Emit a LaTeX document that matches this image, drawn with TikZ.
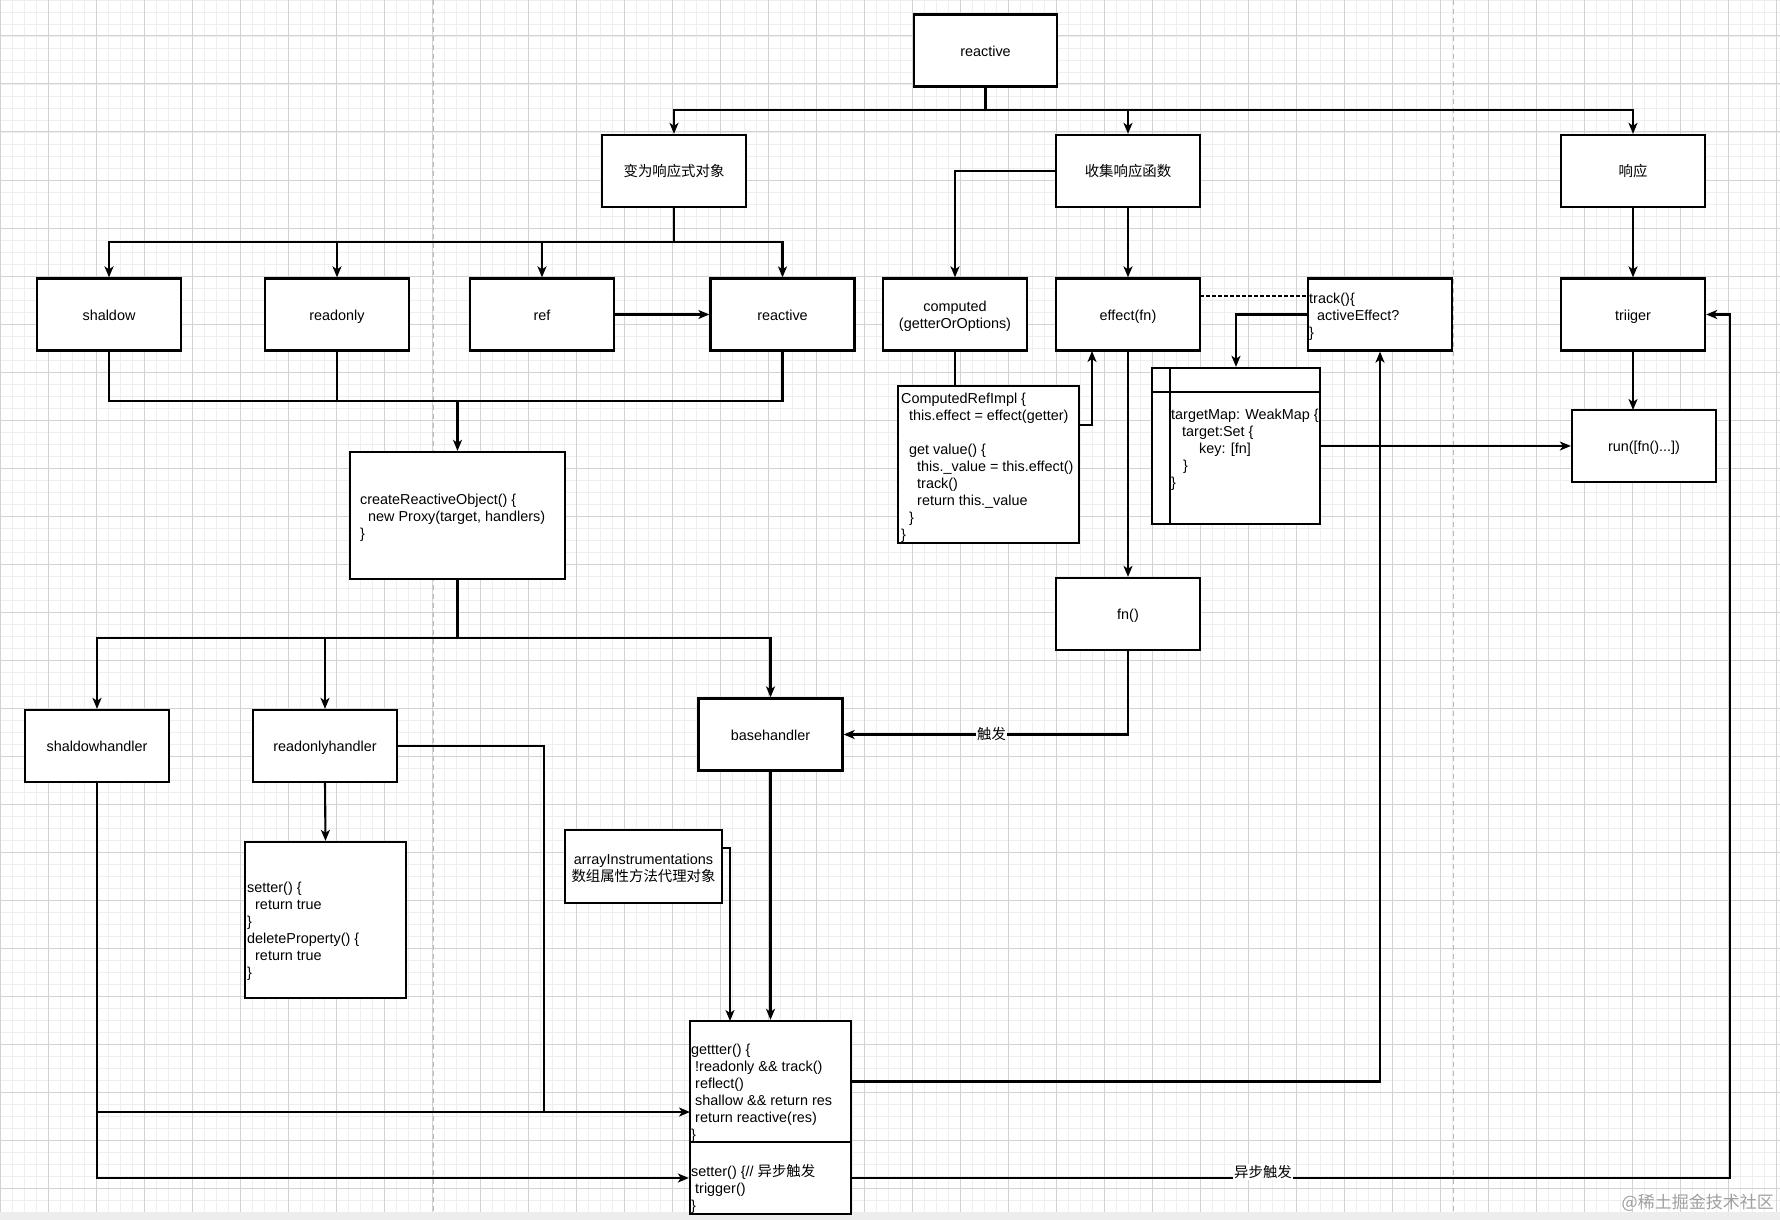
\documentclass[tikz,border=0pt]{standalone}
\usepackage{fontspec}
\setmainfont{Liberation Sans}
\newfontfamily\cjk{Noto Sans CJK SC}
\usetikzlibrary{arrows.meta}
\definecolor{gmaj}{HTML}{D2D2D2}
\definecolor{gmin}{HTML}{EEEEEE}
\definecolor{sep}{HTML}{B8B8B8}
\newcommand\dfont{\fontsize{14.4}{17}\selectfont}
\newcommand\tallfirst{\rule{0pt}{14.5pt}}
\begin{document}
\begin{tikzpicture}[x=1pt,y=-1pt,
  box/.style={draw=black, line width=2.3pt, fill=white, minimum width=144pt, minimum height=72pt, inner sep=0pt, align=center, font=\dfont},
  one/.style={text height=14pt, text depth=2.7pt},
  conn/.style={line width=2.1pt, -{Stealth[length=11pt,width=9pt,inset=3pt]}},
  thinconn/.style={line width=1.6pt, -{Stealth[length=11pt,width=9pt,inset=3pt]}},
  lineseg/.style={line width=2.1pt},
  thinseg/.style={line width=1.6pt},
  code/.style={align=left, inner sep=0pt, anchor=west, font=\dfont},
  lbl/.style={fill=white, inner sep=1pt, font=\dfont}]
\useasboundingbox (0,0) rectangle (1780,1220);
% background grid
\fill[white] (0,0) rectangle (1780,1220);
\foreach \x in {0,12,...,1776} \draw[gmin, line width=0.7pt] (\x,0) -- (\x,1212);
\foreach \y in {0,12,...,1211} \draw[gmin, line width=0.7pt] (0,\y) -- (1780,\y);
\foreach \x in {0,48,...,1776} \draw[gmaj, line width=1pt] (\x,0) -- (\x,1212);
\foreach \y in {36,84,...,1211} \draw[gmaj, line width=1pt] (0,\y) -- (1780,\y);
\draw[sep, line width=1pt, dash pattern=on 5pt off 4pt] (433,0) -- (433,1212);
\draw[sep, line width=1pt, dash pattern=on 5pt off 4pt] (1453,0) -- (1453,1212);
\fill[gray!14] (0,1212) rectangle (1780,1220);
\node[text=gray!75, font=\cjk\fontsize{17}{20}\selectfont, anchor=east, inner sep=0pt] (wm) at (1774,1203) {@稀土掘金技术社区};

% nodes
\node[box, one, minimum width=143pt] (reactive) at (985.5,50.5) {reactive};
\node[box, one] (bianwei) at (674,171) {{\cjk 变为响应式对象}};
\node[box, one] (shouji) at (1128,171) {{\cjk 收集响应函数}};
\node[box, one] (xiangying) at (1633,171) {{\cjk 响应}};

\node[box, one] (shaldow) at (109,314.5) {shaldow};
\node[box, one] (readonly) at (337,314.5) {readonly};
\node[box, one] (ref) at (542,314.5) {ref};
\node[box, one] (reactivetwo) at (782.5,314.5) {reactive};
\node[box] (computed) at (955,314.5) {\tallfirst computed\\(getterOrOptions)};
\node[box, one] (effect) at (1128,314.5) {effect(fn)};
\node[box] (track) at (1380,314.5) {};
\node[code] (tracktxt) at (1309,317) {track()\{\\\hspace*{8pt}activeEffect?\\\}};
\node[box, one] (triiger) at (1633,314.5) {triiger};

\node[box, minimum width=181pt, minimum height=157pt] (cri) at (988.5,464.5) {};
\node[code] (critxt) at (901,467.5) {ComputedRefImpl \{\\\hspace*{8pt}this.effect = effect(getter)\\\strut\\\hspace*{8pt}get value() \{\\\hspace*{16pt}this.\_value = this.effect()\\\hspace*{16pt}track()\\\hspace*{16pt}return this.\_value\\\hspace*{8pt}\}\\\}};

\node[box, minimum width=168pt, minimum height=156pt] (tmap) at (1236,446) {};
\coordinate (th1) at (1152,392);
\coordinate (th2) at (1320,392);
\coordinate (tv1) at (1170,368);
\coordinate (tv2) at (1170,524);
\draw[line width=2.3pt] (th1) -- (th2);
\draw[line width=2.3pt] (tv1) -- (tv2);
\node[code] (tmaptxt) at (1171,449.5) {targetMap: WeakMap \{\\\hspace*{11pt}target:Set \{\\\hspace*{28pt}key: [fn]\\\hspace*{12pt}\}\\\}};

\node[box, one] (run) at (1644,446) {run([fn()...])};
\node[box, minimum width=215pt, minimum height=127pt] (cro) at (457.5,515.5) {};
\node[code] (crotxt) at (360,518) {createReactiveObject() \{\\\hspace*{8pt}new Proxy(target, handlers)\\\}};
\node[box, one] (fn) at (1128,614) {fn()};

\node[box, one] (shaldowhandler) at (97,746) {shaldowhandler};
\node[box, one] (readonlyhandler) at (325,746) {readonlyhandler};
\node[box, one] (basehandler) at (770.5,734.5) {basehandler};

\node[box, minimum width=161pt, minimum height=156pt] (setdel) at (325.5,920) {};
\node[code] (setdeltxt) at (247,931) {setter() \{\\\hspace*{8pt}return true\\\}\\deleteProperty() \{\\\hspace*{8pt}return true\\\}};

\node[box, minimum width=157pt, minimum height=73pt] (arr) at (643.5,866.5) {\tallfirst arrayInstrumentations\\{\cjk 数组属性方法代理对象}};

\node[box, minimum width=161pt, minimum height=121pt] (getter) at (770.5,1081.5) {};
\node[code] (gettertxt) at (691,1093) {gettter() \{\\\hspace*{4pt}!readonly \&\& track()\\\hspace*{4pt}reflect()\\\hspace*{4pt}shallow \&\& return res\\\hspace*{4pt}return reactive(res)\\\}};
\node[box, minimum width=161pt, minimum height=72pt] (setter) at (770.5,1178) {};
\node[code] (settertxt) at (691,1189) {setter() \{// {\cjk 异步触发}\\\hspace*{4pt}trigger()\\\}};

% connectors
\coordinate (b1) at (985.5,110);
\draw[lineseg] (reactive.south) -- (b1);
\draw[conn] (b1) -| (bianwei.north);
\draw[conn] (b1) -| (shouji.north);
\draw[conn] (b1) -| (xiangying.north);

\coordinate (b2) at (674,242);
\draw[lineseg] (bianwei.south) -- (b2);
\draw[conn] (b2) -| (shaldow.north);
\draw[conn] (b2) -| (readonly.north);
\draw[conn] (b2) -| (ref.north);
\draw[conn] (b2) -| (reactivetwo.north);
\draw[conn] (ref.east) -- (reactivetwo.west);

\coordinate (b3) at (457.5,401);
\draw[lineseg] (shaldow.south) |- (b3);
\draw[lineseg] (readonly.south) |- (b3);
\draw[lineseg] (reactivetwo.south) |- (b3);
\draw[conn] (b3) -- (cro.north);

\coordinate (b4) at (457.5,638);
\draw[lineseg] (cro.south) -- (b4);
\draw[conn] (b4) -| (shaldowhandler.north);
\draw[conn] (b4) -| (readonlyhandler.north);
\draw[conn] (b4) -| (basehandler.north);

\draw[conn] (shouji.west) -| (computed.north);
\draw[conn] (shouji.south) -- (effect.north);
\draw[conn] (xiangying.south) -- (triiger.north);

\coordinate (ctop) at (955,386);
\draw[thinseg] (computed.south) -- (ctop);
\coordinate (cout) at (1079,425);
\coordinate (ein) at (1092,351);
\draw[thinconn] (cout) -| (ein);
\draw[conn] (effect.south) -- (fn.north);
\coordinate (ed) at (1200,296);
\coordinate (td) at (1308,296);
\draw[line width=1.7pt, dash pattern=on 3.5pt off 2.5pt] (ed) -- (td);
\draw[conn] (track.west) -| (tmap.north);
\draw[thinconn] (tmap.east) -- (run.west);
\coordinate (rin) at (1633,410);
\draw[conn] (triiger.south) -- (rin);

\draw[conn] (fn.south) |- node[lbl, pos=0.74] {{\cjk 触发}} (basehandler.east);
\draw[conn] (basehandler.south) -- (getter.north);
\coordinate (aout) at (722,848);
\coordinate (gtop) at (730,1021);
\draw[thinconn] (aout) -| (gtop);
\draw[conn] (readonlyhandler.south) -- (setdel.north);

\coordinate (gin) at (690,1112);
\coordinate (rj) at (544,1112);
\draw[thinseg] (readonlyhandler.east) -| (rj);
\draw[conn] (shaldowhandler.south) |- (gin);
\draw[conn] (shaldowhandler.south) |- (setter.west);
\draw[conn] (getter.east) -| (track.south);
\coordinate (sr) at (1730,1178);
\draw[conn] (setter.east) -- node[lbl, pos=0.468, yshift=6pt] {{\cjk 异步触发}} (sr) |- (triiger.east);
\end{tikzpicture}
\end{document}
